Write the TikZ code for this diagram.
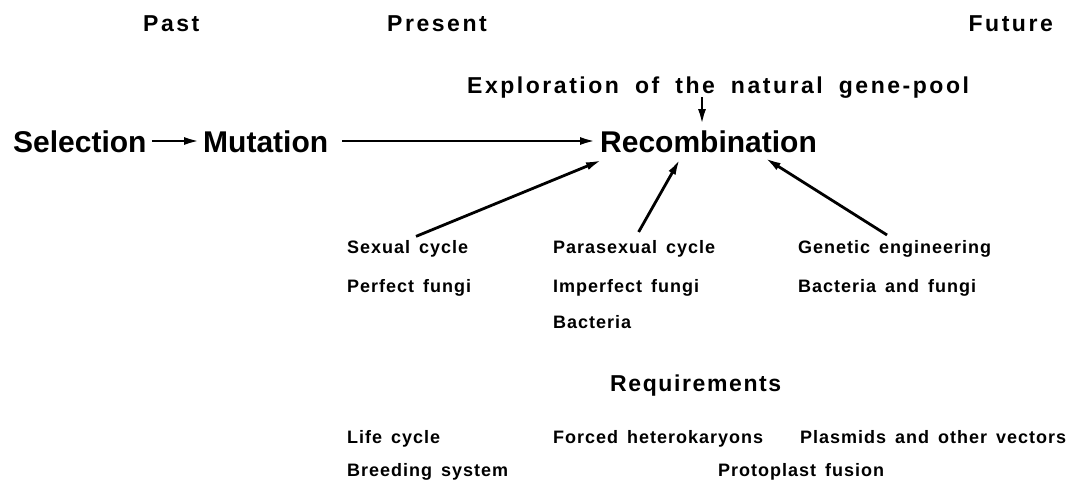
\documentclass[tikz,border=0pt]{standalone}
\usepackage{fontspec}
\setmainfont{Liberation Sans}
\newfontfamily\bigf[LetterSpace=0,WordSpace=1.5]{Liberation Sans}
\newfontfamily\medf[LetterSpace=11,WordSpace=1.8]{Liberation Sans}
\newfontfamily\reqf[LetterSpace=7]{Liberation Sans}
\newfontfamily\smallf[LetterSpace=5.5,WordSpace=1.5]{Liberation Sans}
\usetikzlibrary{arrows.meta}
\begin{document}
\begin{tikzpicture}[x=1pt,y=-1pt,
  big/.style={inner sep=0pt, anchor=base west, font=\fontsize{30}{30}\bigf\bfseries\selectfont, text height=22pt, text depth=0pt},
  med/.style={inner sep=0pt, anchor=base west, font=\fontsize{23}{23}\medf\bfseries\selectfont, text height=16pt, text depth=4pt},
  req/.style={inner sep=0pt, anchor=base west, font=\fontsize{23}{23}\reqf\bfseries\selectfont, text height=16pt, text depth=4pt},
  sm/.style={inner sep=0pt, anchor=base west, font=\fontsize{18}{18}\smallf\bfseries\selectfont, text height=13pt, text depth=3pt},
  arr/.style={line width=2.8pt, -{Latex[length=16pt,width=8pt]}}]
\useasboundingbox (0,0) rectangle (1069,482);
% headings
\node[med] (past) at (143,31) {Past};
\node[med] (pres) at (387,31) {Present};
\node[med, anchor=base east] (fut) at (1053,31) {Future};
\node[med] (expl) at (467,93) {Exploration of the natural gene-pool};
% main row
\node[big] (sel) at (13,152) {Selection};
\node[big] (mut) at (203,152) {Mutation};
\node[big] (rec) at (600,152) {Recombination};
% routes
\node[sm] (sex) at (347,253) {Sexual cycle};
\node[sm] (perf) at (347,292) {Perfect fungi};
\node[sm] (para) at (553,253) {Parasexual cycle};
\node[sm] (imp) at (553,292) {Imperfect fungi};
\node[sm] (bac) at (553,328) {Bacteria};
\node[sm] (gen) at (798,253) {Genetic engineering};
\node[sm] (bf) at (798,292) {Bacteria and fungi};
% requirements
\node[req] (req) at (610,391) {Requirements};
\node[sm] (life) at (347,443) {Life cycle};
\node[sm] (forced) at (553,443) {Forced heterokaryons};
\node[sm] (plas) at (800,443) {Plasmids and other vectors};
\node[sm] (breed) at (347,476) {Breeding system};
\node[sm] (proto) at (718,476) {Protoplast fusion};
% arrow ends
\coordinate (d1) at (702,125);
\coordinate (t1) at (602,160);
\coordinate (t2) at (680,159);
\coordinate (t3) at (765,158);
% connectors
\draw[arr, shorten <=5pt, shorten >=3pt] (sel) -- (mut);
\draw[arr, shorten <=14pt, shorten >=4pt] (mut) -- (rec);
\draw[arr] (expl.south -| d1) -- (d1);
\draw[arr, shorten <=9pt] (sex.north) -- (t1);
\draw[arr, shorten <=9pt] (para.north) -- (t2);
\draw[arr, shorten <=9pt] (gen.north) -- (t3);
\end{tikzpicture}
\end{document}
